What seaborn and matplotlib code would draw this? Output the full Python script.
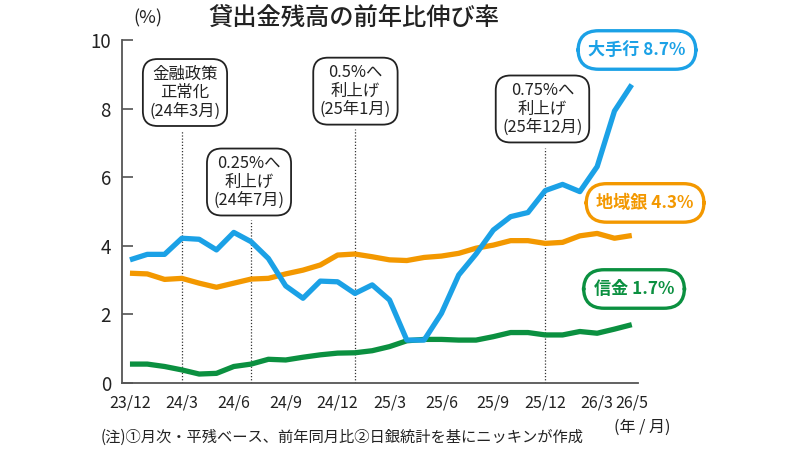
import matplotlib
matplotlib.use("Agg")
import matplotlib.pyplot as plt
import seaborn as sns
import pandas as pd
import numpy as np

sns.set_theme(style="white")
plt.rcParams['font.family'] = ['Noto Sans CJK JP', 'DejaVu Sans']

# ---- data (monthly, 23/12 .. 26/5) ----
months = ["23/12", "24/1", "24/2", "24/3", "24/4", "24/5", "24/6", "24/7", "24/8", "24/9",
          "24/10", "24/11", "24/12", "25/1", "25/2", "25/3", "25/4", "25/5", "25/6", "25/7",
          "25/8", "25/9", "25/10", "25/11", "25/12", "26/1", "26/2", "26/3", "26/4", "26/5"]
major_banks = [3.59, 3.75, 3.75, 4.22, 4.19, 3.88, 4.39, 4.12, 3.63, 2.83,
               2.47, 2.97, 2.95, 2.61, 2.86, 2.42, 1.25, 1.25, 2.03, 3.15,
               3.76, 4.46, 4.85, 4.97, 5.61, 5.79, 5.58, 6.31, 7.93, 8.7]
regional_banks = [3.2, 3.18, 3.02, 3.05, 2.91, 2.79, 2.91, 3.03, 3.05, 3.18,
                  3.29, 3.44, 3.73, 3.76, 3.68, 3.59, 3.57, 3.66, 3.70, 3.78,
                  3.93, 4.02, 4.15, 4.15, 4.07, 4.10, 4.29, 4.36, 4.22, 4.3]
shinkin = [0.55, 0.55, 0.48, 0.38, 0.26, 0.28, 0.48, 0.55, 0.69, 0.67,
           0.75, 0.82, 0.87, 0.88, 0.94, 1.06, 1.23, 1.27, 1.27, 1.25,
           1.25, 1.35, 1.47, 1.47, 1.40, 1.40, 1.50, 1.45, 1.57, 1.7]
series_names = ["大手行", "地域銀", "信金"]
series_labels = ["大手行 8.7%", "地域銀 4.3%", "信金 1.7%"]
colors = ["#1ba1e6", "#f39800", "#0b9040"]

tick_labels = ["23/12", "24/3", "24/6", "24/9", "24/12", "25/3", "25/6", "25/9", "25/12", "26/3", "26/5"]
events = ["金融政策\n正常化\n(24年3月)", "0.25%へ\n利上げ\n(24年7月)",
          "0.5%へ\n利上げ\n(25年1月)", "0.75%へ\n利上げ\n(25年12月)"]
event_months = ["24/3", "24/7", "25/1", "25/12"]

# ---- frame ----
idx = np.arange(len(months))
df = pd.DataFrame({"t": np.tile(idx, 3),
                   "value": major_banks + regional_banks + shinkin,
                   "series": np.repeat(series_names, len(months))})

fig = plt.figure(figsize=(8, 4.5), dpi=100)
ax = fig.add_axes([0.1525, 0.149, 0.645, 0.762])

sns.lineplot(data=df, x="t", y="value", hue="series", hue_order=series_names,
             palette=colors, linewidth=3.8, legend=False, ax=ax,
             solid_capstyle="butt", solid_joinstyle="round")
for line, z in zip(ax.get_lines(), [4, 3, 2]):
    line.set_zorder(z)

ax.set_xlim(-0.46, 29.36)
ax.set_ylim(0, 10)
ax.set_yticks([0, 2, 4, 6, 8, 10])
ax.set_yticklabels(["0", "2", "4", "6", "8", "10"], fontsize=13.5, color="#222222")
ax.set_xticks([months.index(m) for m in tick_labels])
ax.set_xticklabels(tick_labels, fontsize=11.5, color="#222222")
ax.set_xlabel("")
ax.set_ylabel("")
ax.tick_params(axis="y", direction="in", length=8, width=1.1, color="#444444", pad=8, left=True)
ax.tick_params(axis="x", length=0, pad=8)
for s in ["top", "right"]:
    ax.spines[s].set_visible(False)
for s in ["left", "bottom"]:
    ax.spines[s].set_color("#555555")
    ax.spines[s].set_linewidth(1.3)

# event annotations
box_pos = [(3.18, 8.47, 7.38), (6.88, 5.86, 4.75), (13.03, 8.51, 7.40), (23.84, 7.99, 6.85)]
for txt, m, (bx, by, ytop) in zip(events, event_months, box_pos):
    mi = months.index(m)
    ax.plot([mi, mi], [0, ytop], color="#333333", lw=0.9, ls=(0, (1, 1.5)), zorder=1)
    ax.text(bx, by, txt, ha="center", va="center", fontsize=11.8, linespacing=1.1,
            color="#222222", zorder=5,
            bbox=dict(boxstyle="round,pad=0.4,rounding_size=0.9", fc="white",
                      ec="#222222", lw=1.3))

# series labels
label_pos = [(29.3, 9.71), (29.77, 5.25), (29.13, 2.74)]
for lab, c, (lx, ly) in zip(series_labels, colors, label_pos):
    ax.text(lx, ly, lab, ha="center", va="center", fontsize=12.3, fontweight="bold",
            color=c, zorder=6, clip_on=False,
            bbox=dict(boxstyle="round,pad=0.6,rounding_size=1.2", fc="white",
                      ec=c, lw=2.4))

# texts
fig.text(0.4425, 0.957, "貸出金残高の前年比伸び率", ha="center", va="center",
         fontsize=17.5, fontweight="medium", color="#222222")
fig.text(0.185, 0.96, "(%)", ha="center", va="center", fontsize=13, color="#222222")
fig.text(0.8025, 0.051, "(年 / 月)", ha="center", va="center", fontsize=11.5, color="#222222")
fig.text(0.126, 0.029, "(注)①月次・平残ベース、前年同月比②日銀統計を基にニッキンが作成",
         ha="left", va="center", fontsize=11, color="#222222")

fig.savefig("out.png", dpi=100)
